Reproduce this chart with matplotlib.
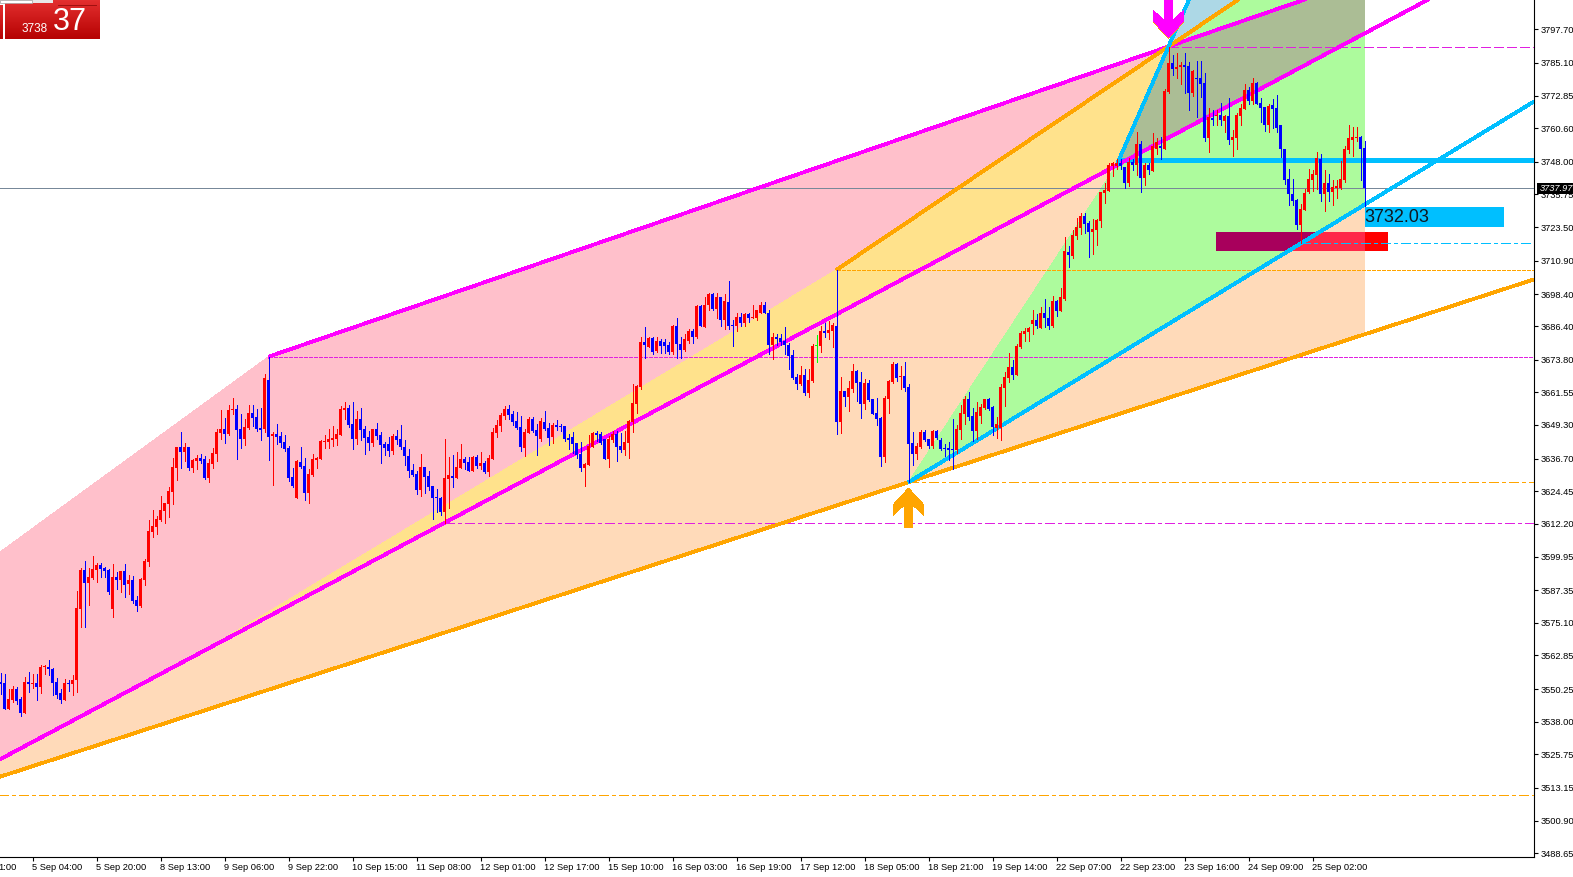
import numpy as np
import matplotlib
matplotlib.use("Agg")
import matplotlib.pyplot as plt
from matplotlib.patches import Polygon, Rectangle

plt.rcParams['font.family'] = ['Liberation Sans', 'DejaVu Sans']

# H1 bars, oldest first
highs = [3555.6,3555.3,3549.6,3550.6,3550.3,3546.5,3554.0,3555.9,3555.3,3555.3,
3558.6,3558.6,3560.5,3557.4,3553.6,3549.6,3553.4,3552.8,3554.9,3586.4,
3594.9,3597.7,3594.9,3599.5,3596.9,3596.9,3595.4,3594.6,3596.5,3593.6,
3593.9,3596.5,3592.2,3591.9,3584.6,3591.3,3598.4,3613.2,3616.8,3614.7,
3622.0,3619.6,3625.6,3636.5,3640.4,3646.2,3642.2,3640.6,3636.1,3637.4,
3637.8,3637.2,3635.9,3640.3,3647.2,3654.3,3651.6,3656.5,3659.1,3656.2,
3652.8,3650.9,3656.2,3656.5,3655.0,3655.2,3667.9,3674.5,3646.1,3649.2,
3646.2,3645.1,3640.9,3632.7,3635.7,3640.5,3636.4,3632.3,3637.9,3636.8,
3643.2,3645.1,3647.3,3648.4,3647.3,3655.9,3657.4,3656.3,3657.4,3654.1,
3655.2,3648.4,3646.6,3647.3,3649.5,3646.2,3642.4,3644.3,3645.4,3647.1,
3648.8,3643.2,3639.8,3634.2,3631.5,3637.9,3633.0,3631.5,3625.9,3624.8,
3621.8,3643.5,3636.8,3637.6,3638.7,3641.7,3636.8,3636.8,3637.2,3637.6,
3638.7,3635.3,3637.6,3647.7,3650.7,3653.3,3655.9,3656.3,3654.0,3653.7,
3652.2,3647.3,3651.8,3651.8,3649.2,3651.4,3654.0,3649.5,3649.4,3650.6,
3649.1,3648.4,3645.4,3646.1,3642.0,3642.4,3634.5,3645.0,3646.1,3646.5,
3646.1,3643.5,3644.6,3646.5,3646.5,3645.8,3646.5,3650.6,3664.1,3663.8,
3681.8,3685.5,3681.8,3681.8,3682.1,3681.0,3681.0,3680.2,3686.6,3689.2,
3681.8,3682.9,3684.8,3684.8,3694.1,3693.8,3697.1,3698.6,3698.6,3698.6,
3697.1,3698.2,3703.1,3688.5,3690.8,3690.8,3690.8,3690.8,3693.8,3692.2,
3694.9,3695.2,3691.9,3683.6,3683.2,3682.9,3685.5,3679.5,3677.2,3667.9,
3670.9,3669.8,3669.8,3679.1,3682.5,3685.9,3687.0,3688.1,3687.0,3707.2,
3666.8,3661.5,3665.2,3671.6,3669.4,3668.6,3666.0,3665.6,3658.5,3658.9,
3651.8,3659.6,3665.6,3672.4,3672.0,3670.9,3672.4,3664.2,3646.2,3642.1,
3646.9,3646.9,3643.5,3646.9,3646.9,3643.9,3641.7,3642.4,3651.1,3648.8,
3656.3,3659.7,3661.2,3655.2,3657.4,3656.7,3658.5,3658.9,3655.9,3651.8,
3664.2,3668.7,3675.8,3673.2,3679.2,3684.0,3685.2,3685.5,3691.9,3690.4,
3693.1,3696.4,3693.1,3697.5,3695.7,3700.2,3719.7,3716.3,3722.2,3726.6,
3728.4,3728.7,3725.4,3726.2,3726.2,3736.3,3739.7,3747.2,3747.9,3748.7,
3748.7,3745.7,3749.1,3748.7,3759.2,3755.5,3747.2,3747.2,3758.7,3756.9,
3757.3,3775.3,3791.2,3788.1,3788.8,3785.5,3788.8,3785.5,3782.4,3785.8,
3785.8,3781.3,3768.2,3767.5,3767.5,3770.1,3765.6,3771.9,3759.7,3766.3,
3769.7,3777.2,3775.9,3779.3,3778.0,3771.9,3768.6,3769.7,3771.6,3773.1,
3761.5,3752.8,3745.3,3741.2,3733.7,3731.8,3737.5,3745.3,3744.9,3751.7,
3750.6,3744.9,3743.1,3740.8,3740.8,3748.3,3753.6,3761.8,3761.1,3761.1,
3757.7,3755.8]

opens = [3552.2,3551.9,3542.1,3545.3,3549.6,3545.9,3540.3,3552.2,3551.2,3551.9,
3550.1,3557.6,3557.9,3557.2,3552.2,3547.9,3545.3,3551.9,3551.2,3552.8,
3579.7,3594.3,3589.4,3591.2,3594.3,3596.2,3595.0,3594.3,3579.7,3591.7,
3590.5,3593.9,3589.0,3590.5,3583.0,3580.6,3590.5,3597.3,3608.5,3610.4,
3613.0,3616.4,3619.0,3623.5,3632.5,3640.4,3638.5,3640.4,3632.5,3635.2,
3636.3,3635.9,3628.8,3634.0,3637.8,3645.7,3647.2,3645.3,3654.3,3655.0,
3647.2,3643.4,3647.5,3653.2,3651.7,3647.6,3647.3,3665.7,3644.8,3645.4,
3644.7,3642.4,3640.2,3629.3,3621.4,3634.9,3633.4,3623.3,3630.0,3635.7,
3636.1,3642.4,3642.4,3643.2,3643.5,3645.1,3654.4,3655.2,3649.2,3643.5,
3651.1,3647.3,3644.3,3642.0,3647.3,3645.1,3641.7,3641.7,3639.1,3644.7,
3643.5,3640.5,3637.2,3631.9,3630.4,3624.4,3633.0,3629.7,3625.9,3621.8,
3621.4,3616.2,3628.5,3629.7,3628.9,3632.7,3636.1,3634.9,3631.5,3636.8,
3633.4,3634.5,3631.2,3636.1,3645.8,3648.4,3652.2,3654.8,3652.9,3650.3,
3648.1,3640.2,3645.8,3651.1,3646.9,3643.5,3649.9,3647.7,3644.2,3648.8,
3648.2,3648.4,3643.9,3644.2,3642.0,3637.9,3632.6,3633.8,3640.5,3645.8,
3645.4,3643.5,3636.0,3643.1,3645.4,3640.9,3639.4,3642.0,3649.9,3656.6,
3663.0,3680.2,3678.0,3681.4,3676.5,3680.6,3679.9,3678.8,3676.1,3686.2,
3679.1,3676.9,3680.6,3684.0,3682.1,3693.4,3685.5,3693.8,3698.2,3692.6,
3697.1,3688.5,3695.2,3686.2,3685.9,3689.6,3687.0,3690.4,3688.9,3689.2,
3691.1,3694.1,3691.1,3678.8,3682.1,3681.4,3680.6,3678.8,3675.0,3666.8,
3664.1,3667.5,3660.8,3665.2,3678.6,3678.4,3684.0,3683.6,3684.0,3686.2,
3649.9,3661.5,3659.2,3662.2,3669.0,3664.9,3656.6,3664.5,3658.5,3653.2,
3651.4,3636.8,3658.5,3664.9,3671.6,3666.8,3667.1,3663.0,3642.1,3637.9,
3640.5,3646.2,3643.5,3640.9,3646.5,3643.2,3640.2,3640.2,3639.8,3639.4,
3646.9,3652.9,3658.5,3652.2,3646.5,3652.2,3655.2,3658.5,3655.5,3647.7,
3647.7,3662.7,3666.4,3670.5,3667.5,3678.0,3682.9,3683.7,3686.7,3688.2,
3685.2,3690.8,3688.9,3685.9,3695.3,3691.6,3696.4,3714.0,3712.4,3719.8,
3722.8,3727.3,3724.7,3721.3,3722.1,3725.4,3736.0,3736.7,3746.4,3746.4,
3747.5,3745.7,3739.7,3747.9,3746.8,3754.7,3741.6,3746.8,3744.2,3752.8,
3753.9,3752.8,3774.2,3785.1,3782.8,3783.6,3784.3,3784.0,3773.8,3779.4,
3779.4,3777.6,3756.6,3764.4,3765.2,3765.6,3763.3,3765.2,3756.2,3756.6,
3765.2,3767.8,3775.0,3770.8,3777.6,3770.1,3768.6,3761.8,3769.3,3768.2,
3761.5,3752.8,3741.2,3735.6,3733.3,3723.9,3729.6,3736.3,3740.8,3742.7,
3748.7,3735.6,3739.7,3736.3,3737.8,3737.8,3740.8,3752.1,3756.2,3756.6,
3757.3,3753.2]

closes = [3551.5,3542.1,3545.9,3549.6,3544.9,3540.3,3552.2,3551.2,3551.9,3550.1,
3557.9,3558.1,3557.2,3551.9,3547.4,3545.3,3551.9,3551.3,3552.9,3580.0,
3594.3,3589.4,3591.7,3594.6,3596.2,3594.6,3593.9,3585.9,3591.7,3590.5,
3593.9,3588.7,3590.5,3582.6,3580.6,3590.9,3597.7,3608.9,3610.8,3613.4,
3616.8,3619.4,3623.9,3632.9,3640.4,3638.5,3640.4,3632.5,3635.5,3636.3,
3635.2,3628.8,3634.4,3638.2,3646.0,3647.2,3645.3,3654.6,3655.0,3646.8,
3643.4,3647.9,3653.2,3651.3,3647.2,3647.0,3666.4,3644.3,3645.4,3644.3,
3642.0,3639.8,3628.9,3625.9,3635.3,3633.0,3623.3,3630.4,3636.1,3636.4,
3642.8,3642.8,3643.5,3643.9,3645.4,3654.8,3655.2,3648.8,3643.5,3651.1,
3646.9,3643.9,3642.0,3647.3,3644.7,3641.3,3640.2,3639.1,3644.7,3643.2,
3640.5,3637.1,3631.5,3630.1,3624.4,3633.0,3629.3,3625.5,3621.4,3621.3,
3616.2,3628.9,3630.0,3628.9,3633.0,3636.1,3634.5,3631.5,3636.8,3633.4,
3634.5,3631.2,3636.4,3646.2,3648.8,3652.6,3654.8,3652.6,3649.9,3647.7,
3640.5,3646.2,3651.1,3646.6,3644.7,3650.3,3647.3,3643.9,3648.8,3648.0,
3647.9,3643.5,3643.1,3641.6,3637.5,3632.6,3634.1,3640.9,3645.8,3645.0,
3642.0,3636.0,3643.5,3645.4,3640.5,3639.4,3642.4,3650.2,3657.0,3663.4,
3680.2,3678.8,3681.4,3676.1,3680.6,3678.4,3678.4,3676.1,3686.2,3679.1,
3677.2,3681.0,3684.0,3682.1,3693.4,3685.9,3694.1,3698.2,3692.6,3697.1,
3688.5,3695.6,3685.9,3685.9,3689.6,3687.0,3690.4,3688.9,3689.6,3691.9,
3694.1,3691.1,3678.8,3682.1,3681.0,3680.2,3678.8,3674.6,3666.4,3664.1,
3667.5,3660.8,3665.6,3678.4,3678.6,3684.0,3683.6,3684.4,3686.6,3649.9,
3661.5,3659.2,3662.6,3669.0,3664.5,3656.6,3664.5,3658.1,3652.9,3651.0,
3636.8,3658.9,3665.2,3671.6,3666.4,3667.1,3662.6,3641.7,3637.9,3640.9,
3646.2,3643.2,3640.9,3646.5,3643.9,3639.8,3639.8,3639.4,3639.4,3647.3,
3653.3,3658.5,3651.8,3646.5,3653.7,3655.5,3658.5,3654.8,3648.0,3649.2,
3663.0,3666.8,3670.5,3667.5,3678.4,3683.3,3684.0,3685.2,3688.2,3685.9,
3690.8,3688.9,3685.9,3695.3,3691.6,3696.8,3714.4,3712.6,3720.3,3723.2,
3727.3,3724.3,3721.3,3722.4,3725.8,3736.3,3737.1,3746.8,3747.5,3747.5,
3746.4,3739.7,3747.9,3746.8,3754.7,3741.6,3746.8,3744.6,3753.6,3755.1,
3753.2,3774.6,3785.1,3782.8,3783.6,3784.3,3783.6,3773.8,3782.1,3779.1,
3777.2,3756.6,3764.8,3763.7,3765.6,3763.7,3765.2,3756.2,3757.0,3765.6,
3768.2,3775.0,3770.8,3777.6,3769.7,3768.2,3761.8,3768.9,3767.8,3760.7,
3752.5,3740.8,3735.6,3733.0,3723.9,3730.0,3736.0,3741.2,3743.1,3749.1,
3735.9,3739.7,3736.3,3738.2,3738.6,3741.2,3752.5,3756.6,3757.0,3757.3,
3752.8,3737.97]

lows = [3547.8,3541.9,3541.9,3544.6,3543.8,3539.3,3540.3,3548.4,3549.9,3545.3,
3547.9,3555.3,3554.9,3547.4,3546.1,3544.3,3545.3,3548.6,3547.2,3548.2,
3572.7,3572.7,3581.2,3590.7,3589.9,3591.7,3591.7,3585.3,3576.7,3587.2,
3585.9,3584.2,3585.3,3581.9,3579.0,3580.3,3588.7,3595.9,3606.7,3607.8,
3612.6,3611.9,3614.2,3619.0,3628.0,3632.5,3635.2,3631.9,3631.0,3632.1,
3634.4,3628.4,3627.3,3632.5,3635.2,3643.4,3641.9,3644.9,3652.8,3635.9,
3640.0,3641.2,3647.2,3648.3,3646.4,3643.2,3646.1,3635.7,3626.3,3641.7,
3640.6,3639.1,3627.8,3625.5,3621.4,3632.7,3620.7,3619.5,3629.7,3632.7,
3636.1,3640.2,3640.2,3640.9,3641.3,3645.1,3651.1,3648.1,3639.8,3641.7,
3643.2,3637.9,3639.4,3640.9,3643.5,3634.5,3637.5,3637.2,3637.9,3641.7,
3639.8,3633.8,3629.3,3629.7,3622.9,3622.2,3623.3,3624.4,3613.5,3616.1,
3615.1,3612.0,3617.7,3625.5,3628.9,3632.7,3632.3,3631.5,3631.5,3632.7,
3632.3,3630.8,3629.7,3636.1,3644.3,3646.6,3651.1,3651.1,3648.8,3647.3,
3639.1,3637.2,3645.8,3646.2,3637.5,3642.8,3646.9,3641.3,3642.0,3646.9,
3646.5,3642.8,3639.8,3638.2,3636.4,3631.5,3625.9,3633.8,3640.5,3642.8,
3641.6,3636.0,3633.0,3642.4,3635.2,3638.6,3637.5,3636.4,3646.1,3653.2,
3662.2,3674.2,3678.0,3675.4,3676.1,3675.8,3675.8,3675.4,3675.4,3674.2,
3674.2,3676.5,3679.5,3679.5,3681.4,3685.9,3685.5,3692.2,3692.2,3688.9,
3686.2,3684.8,3685.1,3678.4,3684.0,3685.9,3686.2,3687.4,3688.9,3688.5,
3691.1,3690.8,3675.4,3673.5,3678.8,3678.8,3675.4,3669.8,3666.0,3662.2,
3663.8,3660.0,3659.2,3664.9,3672.4,3676.1,3682.1,3681.0,3678.0,3645.4,
3645.8,3655.9,3654.0,3661.1,3657.8,3651.4,3654.8,3657.8,3652.9,3648.8,
3633.4,3634.9,3653.2,3664.5,3665.2,3662.2,3661.5,3627.3,3633.8,3636.0,
3640.2,3642.8,3640.2,3640.2,3643.5,3639.4,3637.2,3635.7,3632.3,3638.3,
3643.6,3649.2,3650.7,3642.8,3643.6,3649.6,3654.8,3654.4,3645.0,3643.9,
3643.2,3655.9,3664.9,3666.0,3667.5,3677.7,3680.3,3680.3,3682.9,3685.2,
3685.2,3685.5,3684.8,3685.5,3689.7,3691.6,3695.7,3708.1,3711.8,3718.7,
3720.6,3721.0,3712.0,3713.1,3716.4,3723.2,3732.4,3736.7,3742.4,3745.3,
3745.3,3737.8,3738.6,3744.9,3742.7,3736.3,3739.0,3743.1,3744.2,3750.9,
3748.7,3752.8,3773.8,3780.6,3779.4,3777.2,3773.8,3767.5,3772.7,3764.8,
3772.3,3755.8,3751.7,3761.5,3761.5,3761.5,3759.2,3754.7,3750.2,3752.8,
3761.8,3767.8,3769.7,3769.7,3769.7,3762.9,3759.6,3759.2,3760.7,3759.2,
3749.5,3739.3,3731.4,3731.4,3722.4,3717.3,3729.6,3736.0,3736.7,3737.5,
3732.9,3729.2,3732.9,3731.4,3734.1,3737.5,3740.4,3751.0,3750.2,3755.8,
3740.8,3730.3]

price_ticks = [3797.70,3785.10,3772.85,3760.60,3748.00,3735.75,3723.50,3710.90,
3698.40,3686.40,3673.80,3661.55,3649.30,3636.70,3624.45,3612.20,3599.95,3587.35,
3575.10,3562.85,3550.25,3538.00,3525.75,3513.15,3500.90,3488.65]

time_labels = ["5 Sep 04:00","5 Sep 20:00","8 Sep 13:00","9 Sep 06:00","9 Sep 22:00",
"10 Sep 15:00","11 Sep 08:00","12 Sep 01:00","12 Sep 17:00","15 Sep 10:00",
"16 Sep 03:00","16 Sep 19:00","17 Sep 12:00","18 Sep 05:00","18 Sep 21:00",
"19 Sep 14:00","22 Sep 07:00","22 Sep 23:00","23 Sep 16:00","24 Sep 09:00","25 Sep 02:00"]
time_bars = [8 + 16 * i for i in range(len(time_labels))]

bid = 3737.97
level_blue = 3748.5
level_orange_far = 3509.5
level_blue_dash = 3717.3
level_orange_short = 3707.2

# pixel scale of the chart window
PRICE_TOP = 3808.7
PRICE_PER_PX = 0.3762
# the printed scale runs a bit tighter than the one the candles were read on
TICK_STRETCH = 0.3762 / 0.3751
W, H = 1573, 877
PLOT_W, PLOT_H = 1534, 857
LAST = len(closes) - 1


def bar_to_px(b):
    return 0.5 + 4 * b


def price_to_px(p):
    return (PRICE_TOP - p) / PRICE_PER_PX


def through(b0, p0, slope):
    return lambda b: p0 + slope * (b - b0)


fig = plt.figure(figsize=(W / 100, H / 100), dpi=100, facecolor='white')
ax = fig.add_axes([0, 1 - PLOT_H / H, PLOT_W / W, PLOT_H / H])
ax.set_xlim(-0.125, (PLOT_W - 0.5) / 4)
ax.set_ylim(PRICE_TOP - PLOT_H * PRICE_PER_PX, PRICE_TOP)

# trend lines
hi_a = (67, highs[67])
hi_b = (292, highs[292])
top_mag = through(hi_a[0], hi_a[1], (hi_b[1] - hi_a[1]) / (hi_b[0] - hi_a[0]))
low_mag = through(111, lows[111], 0.8005)
low_org = through(227, lows[227], 0.4879)
low_blue = through(227, lows[227], 0.9158)
up_org = through(209, highs[209], (hi_b[1] - highs[209]) / (hi_b[0] - 209))
left_pink = through(hi_a[0], hi_a[1], 1.095)
left_yel = through(209, highs[209], 0.906)
steep_start = 279
steep_blue = through(hi_b[0], hi_b[1], (hi_b[1] - low_mag(steep_start)) / (hi_b[0] - steep_start))

# meeting point of the yellow edge and the lower magenta line
yel_start = (low_mag(0) - left_yel(0)) / (0.906 - 0.8005)

pink, peach, yellow = '#FFC0CB', '#FFDAB9', '#FFE28C'
green, olive, pale = '#ADFB9D', '#ABBD95', '#ADD8E6'

polys = [
    (pink, [(-2, left_pink(-2)), hi_a, (LAST, top_mag(LAST)), (LAST, low_mag(LAST)), (-2, low_mag(-2))]),
    (peach, [(-2, low_mag(-2)), (LAST, low_mag(LAST)), (LAST, low_org(LAST)), (-2, low_org(-2))]),
    (yellow, [(yel_start, low_mag(yel_start)), (209, highs[209]), hi_b, (steep_start, low_mag(steep_start))]),
    (green, [(227, lows[227]), (steep_start, low_mag(steep_start)), hi_b, (LAST, up_org(LAST)), (LAST, low_blue(LAST))]),
    (olive, [(steep_start, low_mag(steep_start)), hi_b, (LAST, top_mag(LAST)), (LAST, low_mag(LAST))]),
    (pale, [hi_b, (320, steep_blue(320)), (320, up_org(320))]),
]
for color, pts in polys:
    ax.add_patch(Polygon(pts, closed=True, facecolor=color, edgecolor='none', antialiased=False, zorder=1))

# red zone box, colours change over the fills
box_lo, box_hi = 3714.4, 3721.4
box_l, box_r = 303.9, 346.9
cross_hi = 227 + (box_hi - lows[227]) / 0.9158
cross_lo = 227 + (box_lo - lows[227]) / 0.9158
ax.add_patch(Rectangle((box_l, box_lo), LAST - box_l, box_hi - box_lo, facecolor='#FF2848', antialiased=False, zorder=2))
ax.add_patch(Rectangle((LAST, box_lo), box_r - LAST, box_hi - box_lo, facecolor='#FF0000', antialiased=False, zorder=2))
ax.add_patch(Polygon([(box_l, box_lo), (box_l, box_hi), (cross_hi, box_hi), (cross_lo, box_lo)],
                     facecolor='#A8005C', edgecolor='none', antialiased=False, zorder=2))

# thin levels
fine = dict(lw=0.72, antialiased=False, zorder=3)
right = (PLOT_W - 0.5) / 4
ax.plot([292, right], [highs[292]] * 2, color='#E020E0', ls=(0, (10, 4)), **fine)
ax.plot([67, right], [highs[67]] * 2, color='#E020E0', ls=(0, (4, 2)), **fine)
ax.plot([209, right], [level_orange_short] * 2, color='#FFA500', ls=(0, (3, 2)), **fine)
ax.plot([325, right], [level_blue_dash] * 2, color='#00BFFF', ls=(0, (10, 4, 3, 4)), **fine)
ax.plot([227, right], [lows[227]] * 2, color='#FFA500', ls=(0, (10, 4, 3, 4)), **fine)
ax.plot([111, right], [lows[111]] * 2, color='#E020E0', ls=(0, (10, 4, 3, 4)), **fine)
ax.plot([-1, right], [level_orange_far] * 2, color='#FFA500', ls=(0, (10, 4, 3, 4)), **fine)
ax.plot([-1, right], [bid] * 2, color='#778899', **fine)

# thick lines
thick = dict(lw=2.0, antialiased=False, solid_capstyle='butt', zorder=4)
ax.plot([steep_start, right], [level_blue] * 2, color='#00BFFF', lw=3.4, antialiased=False, solid_capstyle='butt', zorder=4)
ax.plot([-2, right], [low_mag(-2), low_mag(right)], color='#FF00FF', **thick)
ax.plot([hi_a[0], right], [hi_a[1], top_mag(right)], color='#FF00FF', **thick)
ax.plot([-2, right], [low_org(-2), low_org(right)], color='#FFA500', **thick)
ax.plot([209, 330], [highs[209], up_org(330)], color='#FFA500', **thick)
ax.plot([227, right], [lows[227], low_blue(right)], color='#00BFFF', **thick)
ax.plot([steep_start, 310], [low_mag(steep_start), steep_blue(310)], color='#00BFFF', **thick)

# candles
bars = np.arange(len(closes))
o = np.array(opens)
c = np.array(closes)
colors = np.where(c > o, '#FF0000', np.where(c < o, '#0000FF', '#00FF00')).tolist()
ax.vlines(bars, lows, highs, colors=colors, lw=0.72, antialiased=False, zorder=5)
body_h = np.maximum(np.abs(c - o), PRICE_PER_PX)
ax.bar(bars, body_h, bottom=np.minimum(o, c), width=0.74, color=colors, linewidth=0, antialiased=False, zorder=5)

# last price box
ax.add_patch(Rectangle((LAST, 3723.3), 375.9 - LAST, 7.5, facecolor='#00BFFF', edgecolor='none', antialiased=False, zorder=6))
ax.text(LAST, 3727.0, "3732.03", fontsize=13, color='#101820', va='center', ha='left', zorder=7)

# axes
for side in ('top', 'left'):
    ax.spines[side].set_visible(False)
ax.yaxis.tick_right()
ax.set_yticks([PRICE_TOP - (PRICE_TOP - p) * TICK_STRETCH for p in price_ticks])
ax.set_yticklabels(["%.2f" % p for p in price_ticks])
ax.set_xticks(time_bars)
ax.set_xticklabels(time_labels, ha='left')
ax.tick_params(axis='y', length=3, width=0.8, labelsize=6.7, pad=1.5, colors='black')
ax.tick_params(axis='x', length=3, width=0.8, labelsize=6.7, pad=1.2, colors='black')
ax.text(4.1, -0.0067, "1:00", transform=ax.get_xaxis_transform(), fontsize=6.7, va='top', ha='right', clip_on=False)

# overlay in window pixels, for the arrows and the corner box
ov = fig.add_axes([0, 0, 1, 1], facecolor='none')
ov.set_axis_off()


def arrow(tip_x, tip_y, sign, color):
    shape = [(0, 0), (15.3, 16.7), (15.3, 27.3), (4.3, 16.7), (4.3, 39), (-4.3, 39),
             (-4.3, 16.7), (-15.3, 27.3), (-15.3, 16.7)]
    pts = [(tip_x + dx, tip_y + sign * dy) for dx, dy in shape]
    ov.add_patch(Polygon(pts, closed=True, facecolor=color, edgecolor='none', antialiased=False))


arrow(bar_to_px(227), price_to_px(lows[227]) + 6, 1, '#FFA500')
arrow(bar_to_px(292), price_to_px(highs[292]) - 8, -1, '#FFA500')
arrow(bar_to_px(292), price_to_px(highs[292]) - 9, -1, '#FF00FF')

# corner box gradient
shade = np.linspace(0, 1, 39)[:, None, None] * np.array([-45, -45, -45])[None, None, :] + np.array([228, 48, 48])[None, None, :]
shade = np.clip(shade, 0, 255).astype(np.uint8)
ov.imshow(shade, extent=(5, 100, 39, 0), aspect='auto', interpolation='bilinear')
ov.imshow(shade, extent=(0, 3, 39, 5), aspect='auto', interpolation='bilinear')
ov.add_patch(Rectangle((0, 0), 53, 3, facecolor='#E8E8E8', edgecolor='none'))
ov.add_patch(Rectangle((0, 0), 32, 2.5, facecolor='white', edgecolor='#A0A0A0', lw=0.5))
ov.plot([58, 96], [4.5, 4.5], color='#A01010', lw=0.7)
ov.text(22, 29, "3738", color='white', fontsize=8.5, va='center', ha='left')
ov.text(53, 22, "37", color='white', fontsize=22, va='center', ha='left')

# bid tag on the price scale
ov.add_patch(Rectangle((1536.5, 183), 37, 11, facecolor='black', edgecolor='none', antialiased=False))
ov.text(1540, 188.5, "%.2f" % bid, color='white', fontsize=6.7, style='italic', va='center', ha='left')

ov.set_xlim(0, W)
ov.set_ylim(H, 0)

fig.savefig('out.png', dpi=100, facecolor='white')
